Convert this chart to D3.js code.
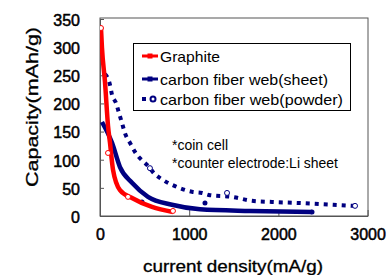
<!DOCTYPE html>
<html><head><meta charset="utf-8">
<script src="https://cdn.jsdelivr.net/npm/d3@7"></script>
<style>html,body{margin:0;padding:0;background:#fff;}svg{display:block;font-family:"Liberation Sans",Arial,sans-serif;}</style>
</head><body>
<svg id="c" width="387" height="275"></svg>
<script>
const xTicks = [0, 1000, 2000, 3000];
const yTicks = [0, 50, 100, 150, 200, 250, 300, 350];
const seriesNames = ["Graphite", "carbon fiber web(sheet)", "carbon fiber web(powder)"];
const graphiteX = [11, 22, 56, 90, 112, 146, 224, 359, 583, 818];
const graphiteY = [334, 299, 238, 160, 130, 82, 46, 32, 16, 7];
const graphiteMarkX = [11, 90, 314, 818];
const graphiteMarkY = [334, 112, 34, 9];
const sheetX = [22, 135, 224, 359, 538, 807, 1121, 1682, 2377];
const sheetY = [167, 130, 87, 59, 34, 20, 12, 9, 7];
const sheetMarkX = [471, 1177, 2377];
const sheetMarkY = [25, 23, 7];
const powderX = [56, 112, 135, 179, 213, 247, 280, 336, 392, 560, 594, 706, 841, 1031, 1143, 1233, 1480, 1704, 1928, 2242, 2612, 2859];
const powderY = [252, 233, 215, 201, 183, 165, 147, 130, 114, 85, 78, 64, 53, 43, 41, 37, 34, 27, 25, 23, 20, 18];
const powderMarkX = [560, 1424, 2859];
const powderMarkY = [85, 41, 18];
const notes = ["*coin cell", "*counter electrode:Li sheet"];

const svg = d3.select("#c");
const L = 100, R = 368, T = 18, B = 216;
const x = d3.scaleLinear().domain([0, 3000]).range([L, 367.6]);
const y = d3.scaleLinear().domain([0, 350]).range([B, 19]);
const red = "#ff0000", navy = "#000080";

// frame
svg.append("rect").attr("x", L).attr("y", T).attr("width", R - L).attr("height", B - T)
  .attr("fill", "none").attr("stroke", "#555").attr("stroke-width", 1);

// axes with inner ticks
const xa = svg.append("g").attr("transform", `translate(0,${B})`)
  .call(d3.axisBottom(x).tickValues(xTicks).tickSizeInner(-6).tickSizeOuter(0).tickPadding(18).tickFormat(d3.format("d")));
const ya = svg.append("g").attr("transform", `translate(${L},0)`)
  .call(d3.axisLeft(y).tickValues(yTicks).tickSizeInner(-4).tickSizeOuter(0).tickPadding(20).tickFormat(d3.format("d")));
[xa, ya].forEach(g => {
  g.select(".domain").attr("stroke", "#555");
  g.selectAll(".tick line").attr("stroke", "#555");
  g.selectAll("text").attr("font-size", 16).attr("fill", "#000")
    .attr("stroke", "#000").attr("stroke-width", 0.5)
    .attr("font-family", "Liberation Sans, Arial, sans-serif");
});
xa.selectAll("text").attr("dy", "0.35em");
ya.selectAll("text").attr("dy", "0.4em");

const line = d3.line().x(d => x(d[0])).y(d => y(d[1])).curve(d3.curveMonotoneX);
svg.append("clipPath").attr("id", "pc").append("rect")
  .attr("x", L).attr("y", T).attr("width", R - L).attr("height", B - T);
const plot = svg.append("g").attr("clip-path", "url(#pc)");

const zip = (a, b) => a.map((v, i) => [v, b[i]]);

// powder (dotted)
plot.append("path").datum(zip(powderX, powderY)).attr("d", line)
  .attr("fill", "none").attr("stroke", navy).attr("stroke-width", 4).attr("stroke-dasharray", "4,5");
plot.selectAll(".pm").data(zip(powderMarkX, powderMarkY)).join("circle")
  .attr("cx", d => x(d[0])).attr("cy", d => y(d[1])).attr("r", 2.5)
  .attr("fill", "#fff").attr("stroke", navy).attr("stroke-width", 1);

// sheet
plot.append("path").datum(zip(sheetX, sheetY)).attr("d", line)
  .attr("fill", "none").attr("stroke", navy).attr("stroke-width", 4.5);
plot.selectAll(".sm").data(zip(sheetMarkX, sheetMarkY)).join("circle")
  .attr("cx", d => x(d[0])).attr("cy", d => y(d[1])).attr("r", 2.5).attr("fill", navy);

// graphite
plot.append("path").datum(zip(graphiteX, graphiteY)).attr("d", line)
  .attr("fill", "none").attr("stroke", red).attr("stroke-width", 4.5);
plot.selectAll(".gm").data(zip(graphiteMarkX, graphiteMarkY)).join("circle")
  .attr("cx", d => x(d[0])).attr("cy", d => y(d[1])).attr("r", 2.5)
  .attr("fill", "#fff").attr("stroke", red).attr("stroke-width", 1);

// legend
const lg = svg.append("g");
lg.append("rect").attr("x", 133.5).attr("y", 43.5).attr("width", 217).attr("height", 67)
  .attr("fill", "#fff").attr("stroke", "#000").attr("stroke-width", 1);
const ly = [56, 79, 99];
const lcol = [red, navy, navy];
const lw = [60, 168, 183];
seriesNames.forEach((n, i) => {
  const g = lg.append("g");
  if (i < 2) {
    g.append("line").attr("x1", 142).attr("x2", 158).attr("y1", ly[i]).attr("y2", ly[i])
      .attr("stroke", lcol[i]).attr("stroke-width", 3);
    g.append("rect").attr("x", 147.5).attr("y", ly[i] - 2.5).attr("width", 5).attr("height", 5).attr("fill", lcol[i]);
  } else {
    g.append("rect").attr("x", 142).attr("y", ly[i] - 2).attr("width", 4).attr("height", 4).attr("fill", navy);
    g.append("circle").attr("cx", 153).attr("cy", ly[i]).attr("r", 2.5).attr("fill", "#fff").attr("stroke", navy).attr("stroke-width", 2);
  }
  g.append("text").attr("x", 160).attr("y", ly[i] + 5.5).attr("font-size", 15)
    .attr("textLength", lw[i]).attr("lengthAdjust", "spacingAndGlyphs").text(n);
});

// notes
const nw = [56, 166];
notes.forEach((t, i) => {
  svg.append("text").attr("x", 172).attr("y", 150 + i * 18).attr("font-size", 14)
    .attr("textLength", nw[i]).attr("lengthAdjust", "spacingAndGlyphs").text(t);
});

// axis titles
svg.append("text").attr("x", 233).attr("y", 272).attr("text-anchor", "middle").attr("font-size", 16)
  .attr("stroke", "#000").attr("stroke-width", 0.3)
  .attr("textLength", 180).attr("lengthAdjust", "spacingAndGlyphs").text("current density(mA/g)");
svg.append("text").attr("transform", "translate(38,107) rotate(-90)").attr("text-anchor", "middle").attr("font-size", 16)
  .attr("stroke", "#000").attr("stroke-width", 0.3)
  .attr("textLength", 160).attr("lengthAdjust", "spacingAndGlyphs").text("Capacity(mAh/g)");
</script>
</body></html>
